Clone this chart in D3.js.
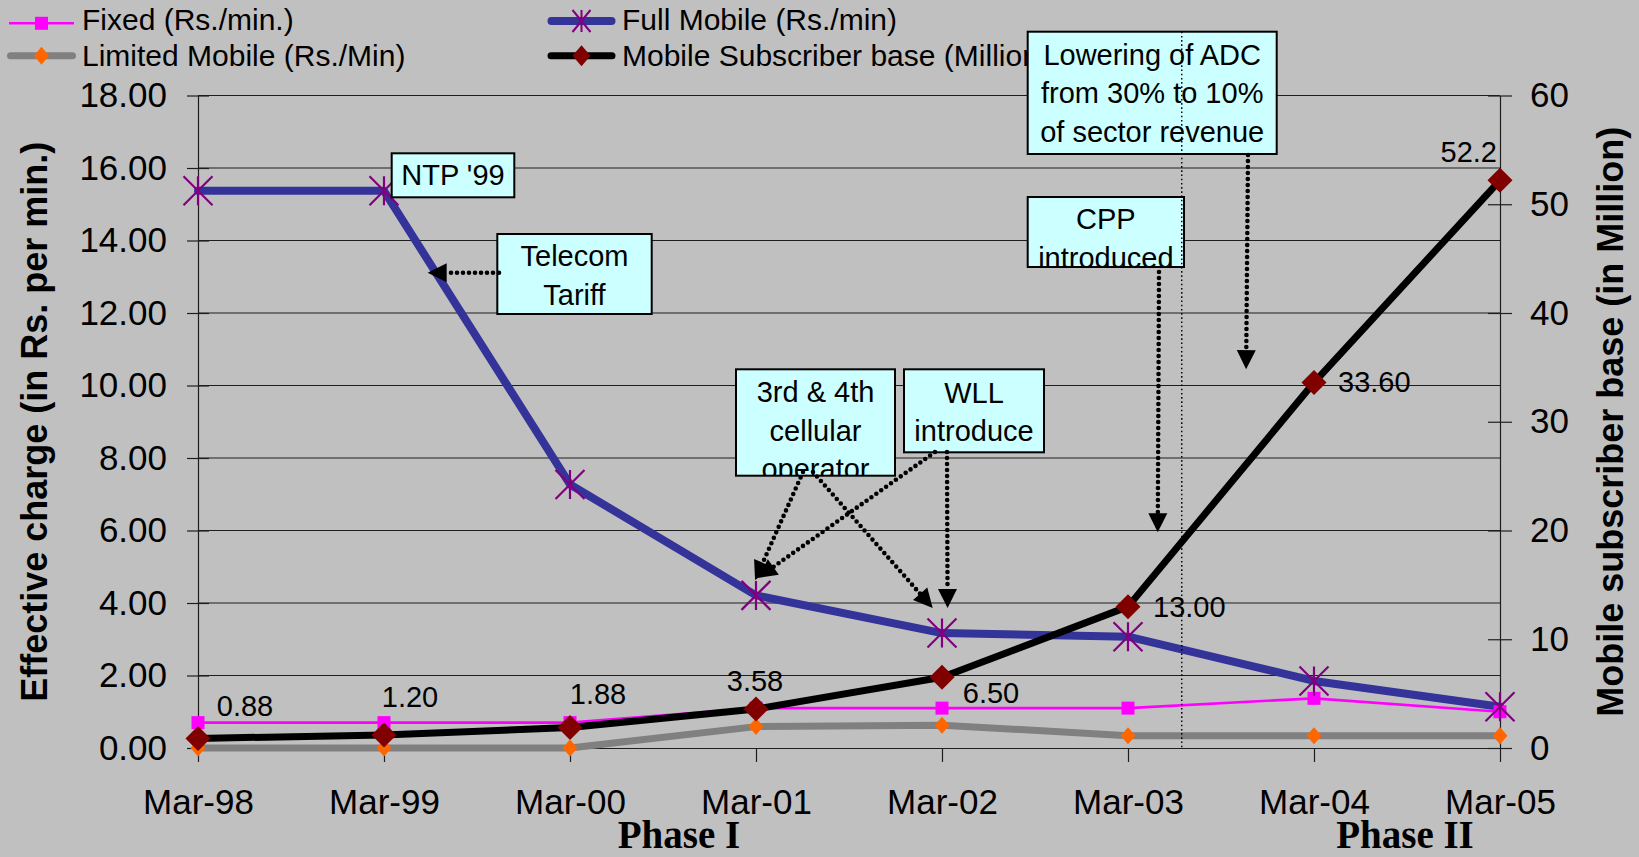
<!DOCTYPE html>
<html>
<head>
<meta charset="utf-8">
<script src="https://cdn.jsdelivr.net/npm/d3@7"></script>
<style>
  html, body { margin: 0; padding: 0; background: #c0c0c0; }
  svg { display: block; }
  text { font-family: "Liberation Sans", Arial, sans-serif; fill: #000; }
</style>
</head>
<body>
<svg id="chart" width="1639" height="857"></svg>
<script>
// ---- data ----
const categories = ["Mar-98", "Mar-99", "Mar-00", "Mar-01", "Mar-02", "Mar-03", "Mar-04", "Mar-05"];
const fixedRate = [0.70, 0.70, 0.70, 1.10, 1.10, 1.10, 1.37, 1.00];
const fullMobileRate = [15.37, 15.37, 7.27, 4.21, 3.17, 3.07, 1.85, 1.14];
const limitedMobileRate = [0.00, 0.00, 0.00, 0.59, 0.63, 0.34, 0.34, 0.34];
const subscriberBase = [0.88, 1.20, 1.88, 3.58, 6.50, 13.00, 33.60, 52.2];
const subscriberLabels = ["0.88", "1.20", "1.88", "3.58", "6.50", "13.00", "33.60", "52.2"];
const leftTicks = [0, 2, 4, 6, 8, 10, 12, 14, 16, 18];
const rightTicks = [0, 10, 20, 30, 40, 50, 60];
const seriesNames = ["Fixed (Rs./min.)", "Full Mobile (Rs./min)", "Limited Mobile (Rs./Min)", "Mobile Subscriber base (Million)"];
const phaseNames = ["Phase I", "Phase II"];

// ---- layout ----
const plot = { left: 198, right: 1500, top: 95.5, bottom: 748 };
const svg = d3.select("#chart");

const x = d3.scalePoint().domain(categories).range([plot.left, plot.right]);
const step = x.step();
const xAt = (cat, frac) => x(cat) + (frac || 0) * step;
const yL = d3.scaleLinear().domain([0, 18]).range([plot.bottom, plot.top]);
const yR = d3.scaleLinear().domain([0, 60]).range([plot.bottom, plot.top]);

// label placement for the subscriber values: [dx, dy, anchor]
const labelNudge = [
  [47, -33, "middle"], [26, -38, "middle"], [28, -34, "middle"], [-1, -28, "middle"],
  [49, 16, "middle"], [25, 0, "start"], [24, -1, "start"], [-3, -28, "end"]
];

svg.append("rect").attr("width", 1639).attr("height", 857).attr("fill", "#c0c0c0");

// ---- gridlines ----
svg.append("g").selectAll("line")
  .data(leftTicks.filter(d => d > 0))
  .join("line")
  .attr("x1", plot.left).attr("x2", plot.right)
  .attr("y1", d => yL(d)).attr("y2", d => yL(d))
  .attr("stroke", "#1e1e1e").attr("stroke-width", 1);

// ---- axes ----
function styleAxis(g) {
  g.attr("font-family", null).attr("font-size", null);
  g.selectAll(".domain").attr("stroke", "#1e1e1e").attr("stroke-width", 1.2);
  g.selectAll(".tick line").attr("stroke", "#1e1e1e").attr("stroke-width", 1.2);
  g.selectAll(".tick text").attr("fill", "#000").style("font-size", "35px");
}

const gLeft = svg.append("g").attr("transform", `translate(${plot.left},0)`)
  .call(d3.axisLeft(yL).tickValues(leftTicks).tickFormat(d3.format(".2f"))
    .tickSizeInner(11).tickSizeOuter(0).tickPadding(20));
styleAxis(gLeft);
gLeft.selectAll(".tick line").attr("x1", 11);

const gRight = svg.append("g").attr("transform", `translate(${plot.right},0)`)
  .call(d3.axisRight(yR).tickValues(rightTicks).tickFormat(d3.format("d"))
    .tickSizeInner(12).tickSizeOuter(0).tickPadding(18));
styleAxis(gRight);
gRight.selectAll(".tick line").attr("x1", -12);

const gBottom = svg.append("g").attr("transform", `translate(0,${plot.bottom})`)
  .call(d3.axisBottom(x).tickSizeInner(14).tickSizeOuter(0));
styleAxis(gBottom);
gBottom.selectAll(".tick text").attr("y", 54).attr("dy", "0.35em");

// axis titles
svg.append("text")
  .attr("transform", `translate(46.5,${(plot.top + plot.bottom) / 2}) rotate(-90)`)
  .attr("text-anchor", "middle").style("font-size", "36px").style("font-weight", "bold")
  .text("Effective charge (in Rs. per min.)");
svg.append("text")
  .attr("transform", `translate(1623,${(plot.top + plot.bottom) / 2}) rotate(-90)`)
  .attr("text-anchor", "middle").style("font-size", "36px").style("font-weight", "bold")
  .text("Mobile subscriber base (in Million)");

// phase captions
svg.selectAll("text.phase")
  .data(phaseNames)
  .join("text").attr("class", "phase")
  .attr("x", (d, i) => [679, 1405][i]).attr("y", 848)
  .attr("text-anchor", "middle")
  .style("font-family", "'Liberation Serif', 'Times New Roman', serif")
  .style("font-weight", "bold").style("font-size", "39px")
  .text(d => d);

// ---- annotation boxes ----
const boxes = [
  { x0: 1027.7, y0: 31.7, x1: 1276.7, y1: 154, base: 64.5, lines: ["Lowering of ADC", "from 30% to 10%", "of sector revenue"] },
  { x0: 1027.7, y0: 197, x1: 1184, y1: 267, base: 229, lines: ["CPP", "introduced"] },
  { x0: 497.3, y0: 234, x1: 651.7, y1: 314, base: 266, lines: ["Telecom", "Tariff"] },
  { x0: 391.7, y0: 153.3, x1: 514.3, y1: 197.3, base: 185, lines: ["NTP '99"] },
  { x0: 736, y0: 369.3, x1: 895, y1: 475.7, base: 402, lines: ["3rd & 4th", "cellular", "operator"] },
  { x0: 904, y0: 369.3, x1: 1044, y1: 452.3, base: 402.5, lines: ["WLL", "introduce"] }
];
const defs = svg.append("defs");
boxes.forEach((b, i) => {
  defs.append("clipPath").attr("id", "boxclip" + i)
    .append("rect").attr("x", b.x0).attr("y", b.y0)
    .attr("width", b.x1 - b.x0).attr("height", b.y1 - b.y0);
});

// ---- series lines ----
const lineL = d3.line().x((d, i) => x(categories[i])).y(d => yL(d));
const lineR = d3.line().x((d, i) => x(categories[i])).y(d => yR(d));
const gSeries = svg.append("g");
gSeries.append("path").datum(fixedRate).attr("d", lineL)
  .attr("fill", "none").attr("stroke", "#ff00ff").attr("stroke-width", 2.6);
gSeries.append("path").datum(fullMobileRate).attr("d", lineL)
  .attr("fill", "none").attr("stroke", "#333399").attr("stroke-width", 8)
  .attr("stroke-linejoin", "round").attr("stroke-linecap", "round");
gSeries.append("path").datum(limitedMobileRate).attr("d", lineL)
  .attr("fill", "none").attr("stroke", "#808080").attr("stroke-width", 7)
  .attr("stroke-linejoin", "round");
gSeries.append("path").datum(subscriberBase).attr("d", lineR)
  .attr("fill", "none").attr("stroke", "#000").attr("stroke-width", 7)
  .attr("stroke-linejoin", "round").attr("stroke-linecap", "round");

// marker shapes
const diamond = (w, h) => `M0,${-h}L${w},0L0,${h}L${-w},0Z`;
const star = (w, h) => `M0,${-h}V${h}M${-w},${-h}L${w},${h}M${w},${-h}L${-w},${h}`;

const gMarks = svg.append("g");
gMarks.selectAll("rect.fixed").data(fixedRate).join("rect").attr("class", "fixed")
  .attr("x", (d, i) => x(categories[i]) - 6.5).attr("y", d => yL(d) - 6.5)
  .attr("width", 13).attr("height", 13).attr("fill", "#ff00ff");
gMarks.selectAll("path.full").data(fullMobileRate).join("path").attr("class", "full")
  .attr("transform", (d, i) => `translate(${x(categories[i])},${yL(d)})`)
  .attr("d", star(14.5, 14.5)).attr("fill", "none").attr("stroke", "#800080").attr("stroke-width", 2.2);
gMarks.selectAll("path.limited").data(limitedMobileRate).join("path").attr("class", "limited")
  .attr("transform", (d, i) => `translate(${x(categories[i])},${yL(d)})`)
  .attr("d", diamond(7.5, 8.5)).attr("fill", "#ff6600");
gMarks.selectAll("path.subs").data(subscriberBase).join("path").attr("class", "subs")
  .attr("transform", (d, i) => `translate(${x(categories[i])},${yR(d)})`)
  .attr("d", diamond(12.5, 12.5)).attr("fill", "#800000");

// value labels for the subscriber base
svg.append("g").selectAll("text").data(subscriberBase).join("text")
  .attr("x", (d, i) => x(categories[i]) + labelNudge[i][0])
  .attr("y", (d, i) => yR(d) + labelNudge[i][1])
  .attr("dy", "0.35em")
  .attr("text-anchor", (d, i) => labelNudge[i][2])
  .style("font-size", "29px")
  .text((d, i) => subscriberLabels[i]);

// ---- legend ----
const gLeg = svg.append("g");
// Fixed
gLeg.append("line").attr("x1", 9).attr("x2", 74).attr("y1", 23.3).attr("y2", 23.3)
  .attr("stroke", "#ff00ff").attr("stroke-width", 2.6);
gLeg.append("rect").attr("x", 35).attr("y", 16.8).attr("width", 13).attr("height", 13).attr("fill", "#ff00ff");
// Limited Mobile
gLeg.append("line").attr("x1", 10.5).attr("x2", 72.5).attr("y1", 55.7).attr("y2", 55.7)
  .attr("stroke", "#808080").attr("stroke-width", 7).attr("stroke-linecap", "round");
gLeg.append("path").attr("transform", "translate(41.5,55.7)").attr("d", diamond(7.5, 9)).attr("fill", "#ff6600");
// Full Mobile
gLeg.append("line").attr("x1", 551.5).attr("x2", 611.5).attr("y1", 21).attr("y2", 21)
  .attr("stroke", "#333399").attr("stroke-width", 8).attr("stroke-linecap", "round");
gLeg.append("path").attr("transform", "translate(581.5,21)").attr("d", star(9, 11))
  .attr("fill", "none").attr("stroke", "#800080").attr("stroke-width", 2);
// Subscriber base
gLeg.append("line").attr("x1", 551).attr("x2", 612).attr("y1", 55.7).attr("y2", 55.7)
  .attr("stroke", "#000").attr("stroke-width", 7).attr("stroke-linecap", "round");
gLeg.append("path").attr("transform", "translate(581.5,55.7)").attr("d", diamond(9, 10.5)).attr("fill", "#800000");

const legendPos = [[82, 30], [622, 30], [82, 65.5], [622, 65.5]];
gLeg.selectAll("text").data(seriesNames).join("text")
  .attr("x", (d, i) => legendPos[i][0]).attr("y", (d, i) => legendPos[i][1])
  .style("font-size", "30px").text(d => d);

// ---- boxes (drawn over legend & gridlines) ----
const gBoxes = svg.append("g");
boxes.forEach((b, i) => {
  gBoxes.append("rect").attr("x", b.x0).attr("y", b.y0)
    .attr("width", b.x1 - b.x0).attr("height", b.y1 - b.y0)
    .attr("fill", "#ccffff");
  const t = gBoxes.append("g").attr("clip-path", `url(#boxclip${i})`);
  b.lines.forEach((ln, j) => {
    t.append("text").attr("x", (b.x0 + b.x1) / 2).attr("y", b.base + j * 38.5)
      .attr("text-anchor", "middle").style("font-size", "29px").text(ln);
  });
  gBoxes.append("rect").attr("x", b.x0).attr("y", b.y0)
    .attr("width", b.x1 - b.x0).attr("height", b.y1 - b.y0)
    .attr("fill", "none").attr("stroke", "#000").attr("stroke-width", 2);
});

// phase separator between Mar-03 and Mar-04
const sepX = xAt("Mar-03", 0.289);
svg.append("line").attr("x1", sepX).attr("x2", sepX).attr("y1", 31.7).attr("y2", plot.bottom)
  .attr("stroke", "#000").attr("stroke-width", 1.4).attr("stroke-dasharray", "1.6 2.6");

// ---- callout arrows: start on a box edge, tip placed on the chart scales ----
const arrows = [
  { from: [499, 272.8], cat: "Mar-99", frac: 0.235, val: 13.11 },
  { from: [803, 472], cat: "Mar-01", frac: -0.005, val: 4.63 },
  { from: [813, 472], cat: "Mar-02", frac: -0.05, val: 3.86 },
  { from: [935, 452], cat: "Mar-01", frac: 0.01, val: 4.69 },
  { from: [947, 452], cat: "Mar-02", frac: 0.03, val: 3.86 },
  { from: [1159, 272], cat: "Mar-03", frac: 0.16, val: 5.95 },
  { from: [1248, 155], cat: "Mar-03", frac: 0.635, val: 10.45 }
];
const gArrows = svg.append("g");
arrows.forEach(a => {
  const tx = xAt(a.cat, a.frac), ty = yL(a.val);
  const dx = tx - a.from[0], dy = ty - a.from[1];
  const len = Math.hypot(dx, dy), ux = dx / len, uy = dy / len;
  const headLen = 19, headHalf = 9.5;
  const bx = tx - ux * headLen, by = ty - uy * headLen;
  gArrows.append("line").attr("x1", a.from[0]).attr("y1", a.from[1])
    .attr("x2", bx).attr("y2", by)
    .attr("stroke", "#000").attr("stroke-width", 4.6)
    .attr("stroke-linecap", "round").attr("stroke-dasharray", "0 6");
  gArrows.append("path")
    .attr("d", `M${tx},${ty}L${bx - uy * headHalf},${by + ux * headHalf}L${bx + uy * headHalf},${by - ux * headHalf}Z`)
    .attr("fill", "#000");
});
</script>
</body>
</html>
